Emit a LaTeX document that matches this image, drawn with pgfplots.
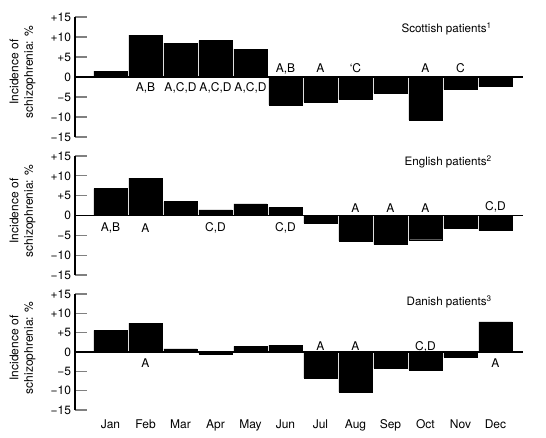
\documentclass[border=0pt]{standalone}
\usepackage{pgfplots}
\pgfplotsset{compat=1.18}
\usepackage{fontspec}
\setmainfont{TeX Gyre Heros}
\newcommand{\fs}{\fontsize{12}{14.5}\selectfont}
\newcommand{\ft}{\fontsize{11.6}{14}\selectfont}
\pgfplotsset{
  panel/.style={
    scale only axis, width=448pt,
    xmin=-1.014, xmax=11.786, ymin=-15, ymax=15,
    axis lines=left, axis line style={-, line width=1.1pt},
    x axis line style={draw=none}, xtick style={draw=none},
    ytick pos=left, tick align=inside, major tick length=12pt,
    ytick style={line width=1.1pt},
    ytick={-15,-10,-5,0,5,10,15},
    yticklabels={−15,−10,−5,0,+5,+10,+15},
    xtick={0,...,11}, xticklabels={},
    tick label style={font=\fs},
    yticklabel style={xshift=-0.5pt},
    ybar, bar width=0.943,
    clip=false,
  },
  bars/.style={fill=black, draw=black, line width=0.3pt},
}
\tikzset{lab/.style={font=\fs, inner sep=0pt},
  yl/.style={rotate=90, align=center, font=\fs, inner sep=0pt}}
\begin{document}
\begin{tikzpicture}[font=\fs]
\path[use as bounding box] (0,0) rectangle (546pt,437pt);
% Scottish
\begin{axis}[panel, height=120pt, at={(75pt,300pt)}, anchor=south west]
\addplot[bars] coordinates {(0,1.5) (1,10.5) (2,8.5) (3,9.1) (4,7.0) (5,-7.0) (6,-6.3) (7,-5.6) (8,-4.0) (9,-10.75) (10,-3.1) (11,-2.4)};
\draw[line width=1.2pt] (axis cs:-1.014,0) -- (axis cs:11.786,0);
\node[anchor=east, font=\ft] at (axis cs:10.99,12) {Scottish patients\textsuperscript{1}};
\node[lab] at (axis cs:1,-2.7) {A,B};
\node[lab] at (axis cs:2,-2.7) {A,C,D};
\node[lab] at (axis cs:3,-2.7) {A,C,D};
\node[lab] at (axis cs:4,-2.7) {A,C,D};
\node[lab] at (axis cs:5,2.1) {A,B};
\node[lab] at (axis cs:6,2.1) {A};
\node[lab] at (axis cs:7,2.1) {`C};
\node[lab] at (axis cs:9,2.1) {A};
\node[lab] at (axis cs:10,2.1) {C};
\end{axis}
% English
\begin{axis}[panel, height=119pt, at={(75pt,162pt)}, anchor=south west]
\addplot[bars] coordinates {(0,6.8) (1,9.4) (2,3.5) (3,1.4) (4,2.9) (5,2.0) (6,-1.9) (7,-6.4) (8,-7.3) (9,-6.1) (10,-3.1) (11,-3.75)};
\draw[line width=1.2pt] (axis cs:-1.014,0) -- (axis cs:11.786,0);
\node[anchor=east, font=\ft] at (axis cs:10.99,13.5) {English patients\textsuperscript{2}};
\node[lab] at (axis cs:0,-3.2) {A,B};
\node[lab] at (axis cs:1,-3.2) {A};
\node[lab] at (axis cs:3,-3.2) {C,D};
\node[lab] at (axis cs:5,-3.2) {C,D};
\node[lab] at (axis cs:7,1.8) {A};
\node[lab] at (axis cs:8,1.8) {A};
\node[lab] at (axis cs:9,1.8) {A};
\node[lab] at (axis cs:11,2.1) {C,D};
\end{axis}
% Danish
\begin{axis}[panel, height=116pt, at={(75pt,27pt)}, anchor=south west,
  xticklabels={Jan,Feb,Mar,Apr,May,Jun,Jul,Aug,Sep,Oct,Nov,Dec},
  xticklabel style={anchor=base, yshift=-6pt}]
\addplot[bars] coordinates {(0,5.6) (1,7.5) (2,0.8) (3,-0.5) (4,1.45) (5,1.8) (6,-6.7) (7,-10.4) (8,-4.1) (9,-4.65) (10,-1.3) (11,7.8)};
\draw[line width=1.2pt] (axis cs:-1.014,0) -- (axis cs:11.786,0);
\node[anchor=east, font=\ft] at (axis cs:10.99,13) {Danish patients\textsuperscript{3}};
\node[lab] at (axis cs:1,-2.9) {A};
\node[lab] at (axis cs:11,-2.9) {A};
\node[lab] at (axis cs:6,1.4) {A};
\node[lab] at (axis cs:7,1.4) {A};
\node[lab] at (axis cs:9,1.4) {C,D};
\end{axis}
\node[yl] at (22.5pt,365pt) {Incidence of\\schizophrenia: \%};
\node[yl] at (22.5pt,226pt) {Incidence of\\schizophrenia: \%};
\node[yl] at (22.5pt,89pt) {Incidence of\\schizophrenia: \%};
\end{tikzpicture}
\end{document}
